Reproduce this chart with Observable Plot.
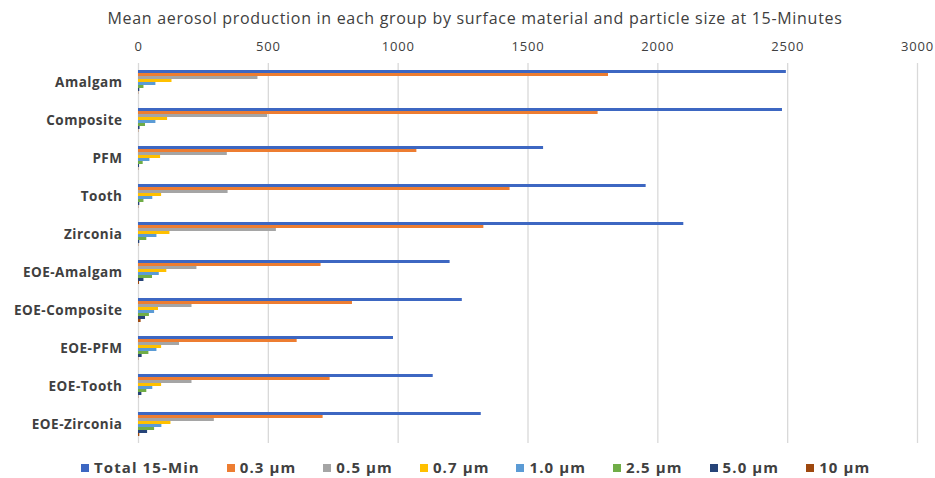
<!DOCTYPE html>
<html>
<head>
<meta charset="utf-8">
<script src="https://cdn.jsdelivr.net/npm/d3@7"></script>
<script src="https://cdn.jsdelivr.net/npm/@observablehq/plot@0.6"></script>
<style>
  html, body { margin: 0; padding: 0; background: #fff; }
  #chart { position: relative; width: 935px; height: 478px; font-family: "Open Sans", sans-serif; color: #404040; }
  #title { position: absolute; left: 0; width: 950px; top: 7px; text-align: center; font-size: 16px; letter-spacing: 0.7px; line-height: 22px; color: #404040; white-space: nowrap; }
  #plot { position: absolute; left: 0; top: 30px; }
  #legend { position: absolute; left: 81px; top: 460px; display: flex; align-items: center; font-size: 15px; letter-spacing: 1.1px; font-weight: 700; color: #404040; line-height: 15px; white-space: nowrap; }
  #legend .item { display: flex; align-items: center; margin-right: 27px; flex-shrink: 0; }
  #legend .sw { width: 8px; height: 8px; margin-right: 5px; flex-shrink: 0; }
  #plot svg g[aria-label^="fy-axis"] text { font-weight: 700; font-size: 13.5px; letter-spacing: 0.5px; fill: #404040; }
  #plot svg g[aria-label^="x-axis"] text { font-size: 13px; fill: #404040; letter-spacing: 0.8px; }
</style>
</head>
<body>
<div id="chart">
  <div id="title">Mean aerosol production in each group by surface material and particle size at 15-Minutes</div>
  <div id="plot"></div>
  <div id="legend"></div>
</div>
<script>
// Surface-material groups, top to bottom
const groups = ["Amalgam", "Composite", "PFM", "Tooth", "Zirconia",
  "EOE-Amalgam", "EOE-Composite", "EOE-PFM", "EOE-Tooth", "EOE-Zirconia"];

// Series names (legend order, also bar order within each group)
const seriesNames = ["Total 15-Min", "0.3 µm", "0.5 µm", "0.7 µm", "1.0 µm", "2.5 µm", "5.0 µm", "10  µm"];
const seriesColors = ["#3d67c2", "#ed7d31", "#a5a5a5", "#ffc000", "#5b9bd5", "#70ad47", "#264478", "#9e480e"];

// Mean aerosol counts per group, one array per series
const total15 = [2495, 2480, 1560, 1955, 2100, 1200, 1247, 982, 1135, 1320];
const um03    = [1810, 1770, 1072, 1431, 1330, 703, 824, 611, 738, 711];
const um05    = [460, 497, 342, 345, 531, 225, 206, 158, 206, 292];
const um07    = [129, 112, 85, 89, 121, 109, 77, 89, 89, 125];
const um10    = [67, 67, 44, 55, 71, 80, 62, 71, 55, 90];
const um25    = [21, 27, 18, 21, 32, 54, 42, 40, 32, 62];
const um50    = [5, 6, 4, 5, 5, 21, 27, 14, 13, 35];
const um100   = [1, 1, 1, 1, 1, 4, 10, 1, 1, 5];

// x-axis ticks
const xTicks = [0, 500, 1000, 1500, 2000, 2500, 3000];

const seriesValues = [total15, um03, um05, um07, um10, um25, um50, um100];
const rows = [];
groups.forEach((g, gi) => {
  seriesNames.forEach((s, si) => {
    rows.push({group: g, series: s, value: seriesValues[si][gi]});
  });
});

const chart = Plot.plot({
  width: 935,
  height: 425,
  marginLeft: 138,
  marginRight: 18,
  marginTop: 29,
  marginBottom: 8,
  style: {fontFamily: "Open Sans, sans-serif", fontSize: "13px", color: "#404040", background: "white"},
  facet: {data: rows, y: "group"},
  fy: {domain: groups, padding: 0, axis: "left", label: null, tickSize: 0, tickPadding: 16},
  y: {domain: seriesNames, axis: null, paddingInner: 0, paddingOuter: 0.8, align: 0.5},
  x: {domain: [0, 3000], ticks: xTicks, tickFormat: d3.format("d"), axis: "top", tickSize: 0, tickPadding: 13, label: null},
  color: {domain: seriesNames, range: seriesColors},
  marks: [
    Plot.ruleX(xTicks, {stroke: "#d9d9d9", strokeWidth: 1.3}),
    Plot.barX(rows, {x: "value", y: "series", fill: "series"})
  ]
});
document.getElementById("plot").appendChild(chart);

// Legend below the plot
const legend = d3.select("#legend");
seriesNames.forEach((s, i) => {
  const item = legend.append("div").attr("class", "item");
  item.append("div").attr("class", "sw").style("background", seriesColors[i]);
  item.append("span").text(s);
});
</script>
</body>
</html>
